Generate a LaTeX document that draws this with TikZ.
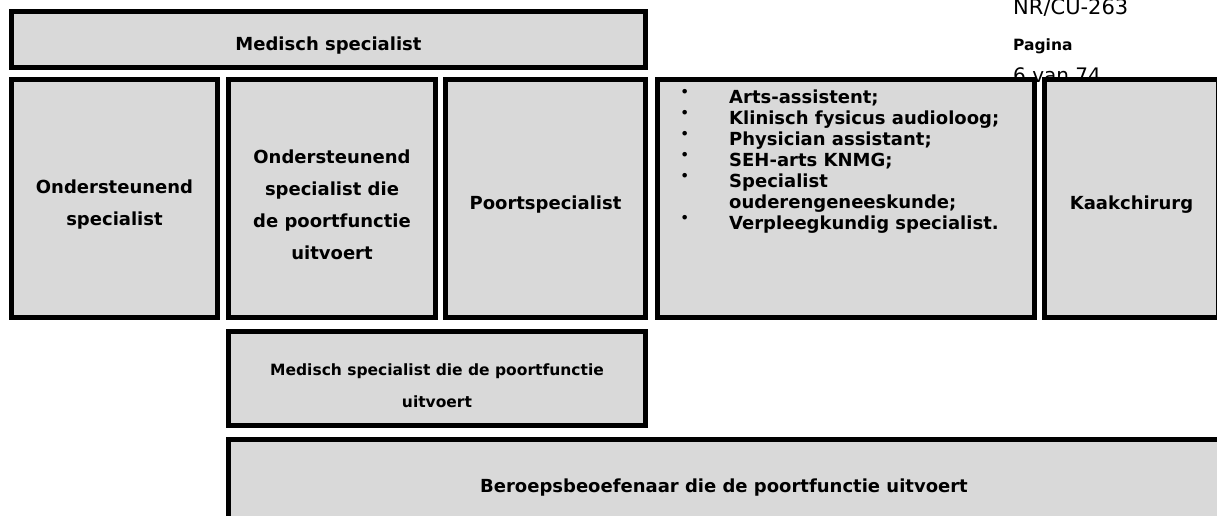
\documentclass[tikz,border=0pt]{standalone}
\usepackage{fontspec}
\setmainfont{DejaVu Sans}
\usepackage{tikz}
\usetikzlibrary{positioning}
\definecolor{boxgray}{RGB}{217,217,217}

\newcommand{\blt}{\makebox[46pt][l]{\hspace{-2.5pt}\raisebox{7.5pt}{\fontsize{13}{13}\selectfont •}}}
\newcommand{\hoog}{\rule{0pt}{26pt}}

\begin{document}
\begin{tikzpicture}[x=1pt,y=-1pt,
    box/.style = {draw, line width=5pt, fill=boxgray, inner sep=0pt, outer sep=2.5pt, align=center, font=\bfseries\fontsize{18}{32}\selectfont},
    head/.style = {anchor=base west, inner sep=0pt}]
        \useasboundingbox (0,0) rectangle (1217,515);
        \clip (0,0) rectangle (1217,515);
        % kop rechtsboven
        \node[head, font=\fontsize{21}{24}\selectfont] (nr) at (1013,14) {NR/CU-263};
        \node[head, font=\bfseries\fontsize{15.5}{18}\selectfont] (pag) at (1013,50) {Pagina};
        \node[head, font=\fontsize{20}{24}\selectfont] (van) at (1013,82) {6 van 74};
        % bovenste rij
        \node[box, minimum width=634pt, minimum height=56pt, anchor=north west] (ms) at (9,9) {\hoog Medisch specialist};
        % middelste rij
        \node[box, minimum width=206pt, minimum height=238pt, below=7pt of ms.south west, anchor=north west] (os) {\hoog Ondersteunend\\ specialist};
        \node[box, minimum width=207pt, minimum height=238pt, right=6pt of os.north east, anchor=north west] (osp) {\hoog Ondersteunend\\ specialist die\\ de poortfunctie\\ uitvoert};
        \node[box, minimum width=200pt, minimum height=238pt, right=5pt of osp.north east, anchor=north west] (ps) {\hoog Poortspecialist};
        \node[box, minimum width=377pt, minimum height=238pt, right=7pt of ps.north east, anchor=north west] (ov) {};
        \node[box, minimum width=174pt, minimum height=238pt, right=5pt of ov.north east, anchor=north west] (kc) {\hoog Kaakchirurg};
        \node[anchor=north west, inner sep=0pt, align=left, font=\bfseries\fontsize{18}{21}\selectfont] (lijst) at ([xshift=28pt,yshift=-12pt]ov.north west)
            {\blt Arts-assistent;\\
             \blt Klinisch fysicus audioloog;\\
             \blt Physician assistant;\\
             \blt SEH-arts KNMG;\\
             \blt Specialist\\
             \hspace{46pt}ouderengeneeskunde;\\
             \blt Verpleegkundig specialist.};
        % onderste rijen
        \node[box, minimum width=417pt, minimum height=94pt, below=9pt of osp.south west, anchor=north west, font=\bfseries\fontsize{15.5}{32}\selectfont] (msp) {\hoog Medisch specialist die de poortfunctie\\ uitvoert};
        \node[box, minimum width=991pt, minimum height=83pt, below=9pt of msp.south west, anchor=north west] (bb) {\hoog Beroepsbeoefenaar die de poortfunctie uitvoert};
      \end{tikzpicture}
\end{document}
